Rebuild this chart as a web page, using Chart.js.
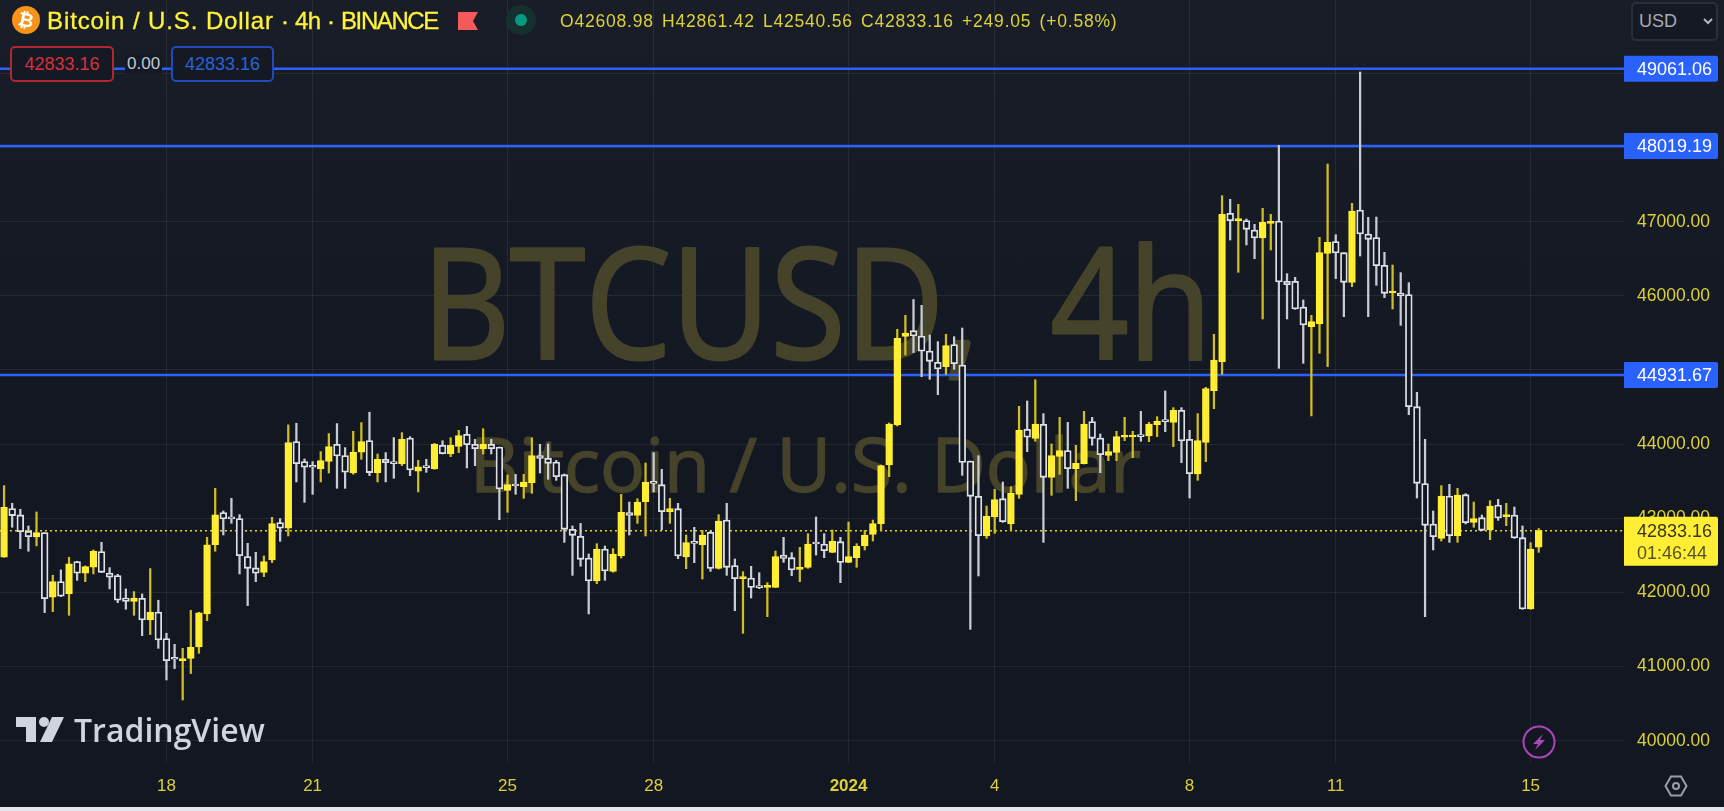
<!DOCTYPE html>
<html>
<head>
<meta charset="utf-8">
<title>BTCUSD 4h</title>
<script src="https://cdn.jsdelivr.net/npm/chart.js@4"></script>
<style>
html, body { margin: 0; padding: 0; background: #e4e6ec; }
#wrap { position: relative; width: 1724px; height: 807px; overflow: hidden; background: linear-gradient(#191d28 0, #131722 55%); }
#grafica { position: absolute; left: 0; top: 0; }
.t { position: absolute; white-space: nowrap; font-family: "Liberation Sans", sans-serif; }
.tit { top: 7px; font-size: 24px; color: #fff23a; -webkit-text-stroke: 0.3px #fff23a; }
.caja { position: absolute; box-sizing: border-box; height: 36px; top: 46px; border-radius: 5px; border: 2px solid; background: #151924;
  font: 18px/32px "Liberation Sans", sans-serif; text-align: center; }
</style>
</head>
<body>
<div id="wrap">
  <canvas id="grafica" width="1724" height="807"></canvas>

  <svg class="t" style="left:12px;top:6px" width="28" height="28" viewBox="0 0 28 28">
    <circle cx="14" cy="14" r="14" fill="#f7931a"/>
    <text x="14" y="20.5" text-anchor="middle" font-family="Liberation Sans" font-weight="700" font-size="19" fill="#fff" transform="rotate(12 14 14)">₿</text>
  </svg>
  <div class="t tit" style="left:47px;letter-spacing:0.9px;">Bitcoin / U.S. Dollar</div>
  <div class="t tit" style="left:281px;">·</div>
  <div class="t tit" style="left:295px;letter-spacing:-0.5px;">4h</div>
  <div class="t tit" style="left:327px;">·</div>
  <div class="t tit" style="left:341px;letter-spacing:-1.4px;">BINANCE</div>
  <svg class="t" style="left:458px;top:12px" width="20" height="18" viewBox="0 0 20 18"><path d="M0 0H20L15 9L20 18H0Z" fill="#f55a5a"/></svg>
  <svg class="t" style="left:506px;top:5px" width="30" height="30" viewBox="0 0 30 30"><circle cx="15" cy="15" r="15" fill="#15312f"/><circle cx="15" cy="15" r="6" fill="#089981"/></svg>
  <div class="t" style="left:560px;top:11px;font-size:17.5px;letter-spacing:0.8px;word-spacing:2.5px;color:#dcd238;">O42608.98 H42861.42 L42540.56 C42833.16 +249.05 (+0.58%)</div>

  <div class="caja" style="left:10px;width:104px;border-color:#b32735;color:#d6303e;">42833.16</div>
  <div class="t" style="left:125px;top:54px;font-size:17px;color:#c4c7cf;background:#151924;padding:0 2px;">0.00</div>
  <div class="caja" style="left:171px;width:103px;border-color:#1f4ab8;color:#2a62d6;">42833.16</div>

  <div class="caja" style="left:1631px;top:2px;width:87px;height:39px;border-color:#2a2e39;color:#a8abb5;text-align:left;padding-left:6px;line-height:35px;font-size:18px;">USD</div>
  <svg class="t" style="left:1702px;top:17px" width="12" height="9" viewBox="0 0 12 9"><path d="M2 2L6 6L10 2" fill="none" stroke="#b2b5be" stroke-width="2"/></svg>

  <svg class="t" style="left:16px;top:717px" width="48" height="25" viewBox="0 0 48 25">
    <path d="M0 0H20V25H10V10H0Z" fill="#d1d4dc"/><circle cx="28" cy="5" r="5" fill="#d1d4dc"/><path d="M36 0H48L36 25H24Z" fill="#d1d4dc"/>
  </svg>
  <div class="t" style="left:74px;top:708px;font:600 32px 'Open Sans',sans-serif;color:#d1d4dc;">TradingView</div>

  <svg class="t" style="left:1522px;top:725px" width="34" height="34" viewBox="0 0 34 34">
    <circle cx="17" cy="17" r="15.5" fill="#131722" stroke="#ab47bc" stroke-width="2"/>
    <path d="M21 9L11 19H16L13 25L23 15H18Z" fill="#ab47bc"/>
  </svg>
  <svg class="t" style="left:1664px;top:774px" width="24" height="24" viewBox="0 0 24 24">
    <path d="M7 2.5H17L22.5 12L17 21.5H7L1.5 12Z" fill="none" stroke="#9a9ea8" stroke-width="2"/><circle cx="12" cy="12" r="3" fill="none" stroke="#9a9ea8" stroke-width="2"/>
  </svg>
</div>

<script>
const dias = { 20: '18', 38: '21', 62: '25', 80: '28', 104: '2024', 122: '4', 146: '8', 164: '11', 188: '15' };
const categorias = Array.from({ length: 200 }, (_, i) => dias[i] || '');
const ticksPrecio = [40000, 41000, 42000, 43000, 44000, 45000, 46000, 47000, 48000, 49000];
const nivelesAzules = [49061.06, 48019.19, 44931.67];
const precioActual = 42833.16;
const cuentaAtras = '01:46:44';

const aperturas = [
    42474,43130,43045,42824,42748,42806,41934,42145,41984,42415,
    42258,42339,42550,42262,42226,41925,41880,41921,41628,41736,
    41377,41107,41080,41111,41264,41709,42644,43076,43000,42995,
    42483,42330,42271,42438,42941,42865,44034,43764,43697,43665,
    43768,43998,43845,43611,43890,44047,43616,43795,43759,43733,
    44083,43634,43697,43665,43984,43867,43970,44132,43997,43934,
    43997,43961,43377,43449,43426,43480,43844,43808,43759,43588,
    42851,42756,42464,42154,42585,42284,42491,43075,43039,43224,
    43489,43453,43089,43129,42477,42671,42644,42810,42324,42976,
    42361,42185,42194,42077,42068,42068,42500,42468,42311,42338,
    42662,42653,42540,42684,42405,42468,42626,42783,42927,43718,
    44258,45454,45530,45458,45256,45103,45045,45342,45067,43772,
    43296,42761,43017,43264,42923,43323,44200,44078,44267,43552,
    43835,43912,43669,43736,44303,44083,43849,43889,44092,44096,
    44123,44110,44263,44325,44294,44456,44065,43597,44024,44721,
    45112,47113,47014,47014,46888,46780,46978,47009,46196,46196,
    45849,45584,45620,46573,46731,46582,46182,47158,46834,46785,
    46411,46038,46038,46016,44505,43467,42923,42729,43300,42765,
    43318,42945,43008,42846,43179,43022,43044,42738,41776,42608.98
];
const maximos = [
    43440,43202,43121,42896,43085,42806,42231,42303,42474,42420,
    42357,42573,42676,42334,42244,42047,42011,41979,42321,41894,
    41449,41300,41246,41759,41732,42743,43404,43099,43269,43049,
    42662,42541,42492,43013,42995,44259,44281,43800,43764,43899,
    44142,44277,43953,44173,44290,44430,43867,43885,44088,44155,
    44101,43782,43795,44010,44046,44087,44186,44240,44064,44208,
    44064,43961,43583,43592,43592,44087,43997,44002,43781,43597,
    42896,42931,42518,42657,42626,42590,43323,43219,43264,43745,
    43885,43660,43269,43201,42774,42878,42837,42828,43048,43201,
    42450,42280,42352,42266,42131,42558,42743,42536,42608,42792,
    43017,42792,42842,42743,42949,42657,42837,42976,43718,44285,
    45548,45737,45950,45872,45472,45382,45481,45449,45566,43772,
    43844,43165,43390,43489,43426,44510,44582,44869,44411,44002,
    44361,44294,43984,44442,44361,44137,44002,44173,44361,44173,
    44442,44294,44370,44717,44492,44492,44186,44411,44766,45481,
    47351,47302,47234,47036,46964,47180,47099,48030,46299,46250,
    45944,45737,46789,47778,46825,46582,47248,49019,47059,47063,
    46587,46416,46313,46178,44699,44065,43098,43440,43458,43404,
    43332,43219,43044,43237,43255,43201,43152,42896,42671,42861.42
];
const minimos = [
    42474,42878,42591,42555,42627,41727,41741,41943,41691,42163,
    42145,42249,42267,42047,41862,41772,41691,41417,41431,41246,
    40819,40972,40549,40905,41179,41619,42555,42775,42932,42249,
    41822,42145,42213,42402,42689,42761,43490,43215,43323,43490,
    43611,43404,43404,43593,43795,43575,43490,43490,43539,43710,
    43575,43355,43620,43661,43867,43831,43885,43678,43709,43867,
    43867,42981,43080,43323,43269,43336,43610,43525,43511,42675,
    42230,42352,41709,42118,42163,42271,42464,42774,42931,42761,
    43354,42846,42931,42455,42320,42401,42181,42284,42315,42230,
    41753,41448,41924,42050,41673,42064,42405,42226,42145,42324,
    42504,42468,42536,42131,42401,42338,42572,42693,42833,43561,
    44245,45202,45234,44910,44874,44667,44941,45009,43579,41502,
    42221,42729,42797,42945,42833,43269,43898,44038,42675,43309,
    43593,43404,43237,43732,43984,43615,43777,43777,44047,43817,
    44038,44033,44101,44168,43966,43750,43273,43512,43763,44478,
    44941,46753,46317,46686,46501,45688,46618,45022,45688,45818,
    45090,44380,45225,45045,46232,45719,46124,46537,45719,46142,
    45975,45823,45602,44397,43273,41673,42572,42693,42675,42675,
    42923,42878,42833,42711,42972,42900,42729,41772,41772,42540.56
];
const cierres = [
    43148,43036,42820,42752,42806,41916,42145,41948,42384,42258,
    42348,42555,42271,42204,41894,41880,41925,41628,41736,41359,
    41080,41098,41107,41260,41723,42640,43045,42991,42991,42496,
    42325,42258,42415,42928,42865,44020,43737,43688,43688,43777,
    43966,43840,43620,43894,44034,43616,43795,43750,43737,44065,
    43652,43692,43683,44002,43871,43984,44114,43993,43939,44002,
    43939,43395,43453,43435,43489,43844,43808,43741,43561,42851,
    42770,42446,42154,42585,42289,42518,43080,43039,43219,43489,
    43471,43089,43129,42491,42671,42662,42774,42324,42963,42338,
    42185,42199,42068,42064,42086,42482,42459,42302,42329,42653,
    42653,42563,42689,42405,42482,42621,42774,42927,43709,44271,
    45427,45499,45458,45252,45117,45013,45328,45085,43754,43296,
    42765,43031,43251,42954,43336,44186,44092,44271,43552,43844,
    43912,43669,43741,44271,44078,43858,43898,44101,44110,44119,
    44101,44271,44307,44303,44456,44042,43602,44047,44748,45135,
    47099,47014,47032,46897,46780,46991,46996,46187,46151,45823,
    45607,45652,46582,46722,46578,46182,47144,46834,46762,46407,
    46034,46056,45998,44505,43471,42905,42752,43300,42765,43314,
    42941,42995,42837,43165,43004,43044,42734,41776,42585,42833.16
];

const COLOR = {
    fondo: '#131722',
    amarillo: '#ffee33',
    mechaAmarilla: '#d0be22',
    blanco: '#dde0e6',
    mechaBlanca: '#c9ccd3',
    azul: '#2962ff',
    ejes: '#dcd238',
    rejilla: 'rgba(255,255,255,0.065)',
    marca: '#454329'
};

const sube = (i) => cierres[i] >= aperturas[i];

const etiqueta = (ctx, y, alto, fondo) => {
    ctx.fillStyle = fondo;
    ctx.beginPath();
    ctx.roundRect(1624, y, 94, alto, [0, 2, 2, 0]);
    ctx.fill();
};

// lineas y marca de agua por debajo de las velas
const pluginFondo = {
    id: 'fondo',
    beforeDatasetsDraw(chart) {
        const { ctx, chartArea: a, scales: { y } } = chart;
        ctx.save();
        ctx.fillStyle = COLOR.marca;
        ctx.strokeStyle = COLOR.marca;
        ctx.textBaseline = 'alphabetic';
        ctx.lineJoin = 'round';
        ctx.font = '153px "Open Sans"';
        ctx.lineWidth = 3;
        ctx.fillText('BTCUSD,  4h', 422, 359, 790);
        ctx.strokeText('BTCUSD,  4h', 422, 359, 790);
        ctx.font = '75px "Open Sans"';
        ctx.lineWidth = 1.5;
        ctx.fillText('Bitcoin / U.S. Dollar', 470, 492);
        ctx.strokeText('Bitcoin / U.S. Dollar', 470, 492);

        ctx.strokeStyle = COLOR.azul;
        ctx.lineWidth = 2.5;
        nivelesAzules.forEach(v => {
            ctx.beginPath();
            ctx.moveTo(a.left, y.getPixelForValue(v));
            ctx.lineTo(a.right, y.getPixelForValue(v));
            ctx.stroke();
        });

        ctx.strokeStyle = '#e0d22a';
        ctx.lineWidth = 1.5;
        ctx.setLineDash([2, 3]);
        ctx.beginPath();
        ctx.moveTo(a.left, y.getPixelForValue(precioActual));
        ctx.lineTo(a.right, y.getPixelForValue(precioActual));
        ctx.stroke();
        ctx.restore();
    },
    afterDraw(chart) {
        const { ctx, scales: { y } } = chart;
        ctx.save();
        ctx.textBaseline = 'middle';
        ctx.font = '18px "Liberation Sans"';
        nivelesAzules.forEach(v => {
            const py = y.getPixelForValue(v);
            etiqueta(ctx, py - 13, 26, COLOR.azul);
            ctx.fillStyle = '#ffffff';
            ctx.fillText(v.toFixed(2), 1637, py + 1);
        });
        const py = y.getPixelForValue(precioActual);
        etiqueta(ctx, py - 14, 49, COLOR.amarillo);
        ctx.fillStyle = '#38361c';
        ctx.fillText(precioActual.toFixed(2), 1637, py + 1);
        ctx.fillStyle = '#55532c';
        ctx.fillText(cuentaAtras, 1637, py + 23);
        ctx.restore();
    }
};

const crearGrafica = () => {
    const ctx = document.getElementById('grafica').getContext('2d');
    new Chart(ctx, {
        type: 'bar',
        data: {
            labels: categorias,
            datasets: [
                {
                    label: 'mechas',
                    data: minimos.map((v, i) => [v, maximos[i]]),
                    grouped: false,
                    order: 2,
                    barThickness: 1.6,
                    backgroundColor: c => sube(c.dataIndex) ? COLOR.mechaAmarilla : COLOR.mechaBlanca
                },
                {
                    label: 'cuerpos',
                    data: aperturas.map((v, i) => [v, cierres[i]]),
                    grouped: false,
                    order: 1,
                    barThickness: 6.8,
                    minBarLength: 2,
                    borderWidth: 1.8,
                    borderSkipped: false,
                    backgroundColor: c => sube(c.dataIndex) ? COLOR.amarillo : COLOR.fondo,
                    borderColor: c => sube(c.dataIndex) ? COLOR.amarillo : COLOR.blanco
                }
            ]
        },
        options: {
            responsive: false,
            animation: false,
            events: [],
            layout: { padding: 0 },
            plugins: { legend: { display: false }, tooltip: { enabled: false } },
            scales: {
                x: {
                    grid: { offset: false, color: COLOR.rejilla, drawTicks: false },
                    border: { display: false },
                    afterBuildTicks: s => { s.ticks = s.ticks.filter(t => dias[t.value]); },
                    afterFit: s => { s.height = 44; s.paddingLeft = 0; s.paddingRight = 0; },
                    ticks: {
                        autoSkip: false,
                        maxRotation: 0,
                        padding: 13,
                        color: COLOR.ejes,
                        font: c => ({ family: 'Liberation Sans', size: 17, weight: c.tick && c.tick.label === '2024' ? 'bold' : 'normal' })
                    }
                },
                y: {
                    position: 'right',
                    min: 39699,
                    max: 49990,
                    grid: { color: COLOR.rejilla, drawTicks: false },
                    border: { display: false },
                    afterBuildTicks: s => { s.ticks = ticksPrecio.map(v => ({ value: v })); },
                    afterFit: s => { s.width = 100; s.paddingTop = 0; s.paddingBottom = 0; },
                    ticks: {
                        padding: 13,
                        color: COLOR.ejes,
                        font: { family: 'Liberation Sans', size: 17.5 },
                        callback: v => v.toFixed(2)
                    }
                }
            }
        },
        plugins: [pluginFondo]
    });
};

crearGrafica();
</script>
</body>
</html>
